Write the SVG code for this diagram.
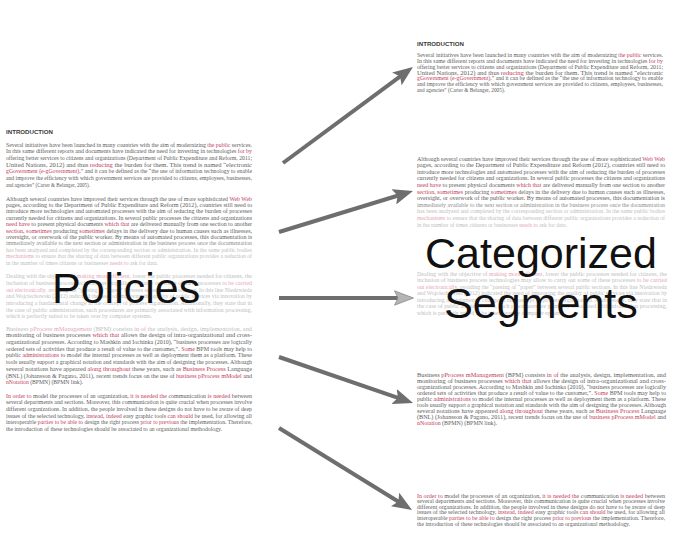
<svg xmlns="http://www.w3.org/2000/svg" width="679" height="545" viewBox="0 0 679 545">
<style>
.t{font-family:"Liberation Serif","Times New Roman",serif;font-size:5.5px;fill:#5c5c5c}
.r{fill:#c23c5a}
.m{fill:#8c8c8c}
.mr{fill:#d27c90}
.f{fill:#bdbdbd}
.fr{fill:#e6a6b5}
.h{font-family:"Liberation Sans",Arial,sans-serif;font-weight:bold;font-size:6px;fill:#3a3a3a}
.big{font-family:"Liberation Sans",Arial,sans-serif;font-size:43px;fill:#111}
.arr{stroke:#6e6e6e;stroke-width:4;fill:none}
</style>
<defs>
<marker id="ah" viewBox="0 0 20 16" markerUnits="userSpaceOnUse" markerWidth="20" markerHeight="16" refX="8" refY="8" orient="auto"><path d="M0,0 L20,8 L0,16 L4,8 z" fill="#6e6e6e"/></marker>
<marker id="ahl" viewBox="0 0 20 16" markerUnits="userSpaceOnUse" markerWidth="20" markerHeight="16" refX="8" refY="8" orient="auto"><path d="M0.5,0.8 L19.5,8 L0.5,15.2 L4,8 z" fill="#b4b4b4" stroke="#8a8a8a" stroke-width="0.8"/></marker>
</defs>
<rect width="679" height="545" fill="#fff"/>

<g id="policies">
<text class="h" x="6" y="133.8" textLength="47" lengthAdjust="spacingAndGlyphs">INTRODUCTION</text>
<text class="t" x="6" y="146.6" textLength="246" lengthAdjust="spacingAndGlyphs">Several initiatives have been launched in many countries with the aim of modernizing <tspan class="r">the public</tspan> services.</text>
<text class="t" x="6" y="153.3" textLength="246" lengthAdjust="spacingAndGlyphs">In this same different reports and documents have indicated the need for investing in technologies <tspan class="r">for by</tspan></text>
<text class="t" x="6" y="160" textLength="246" lengthAdjust="spacingAndGlyphs">offering better services to citizens and organizations (Department of Public Expenditure and Reform, 2011;</text>
<text class="t" x="6" y="166.7" textLength="246" lengthAdjust="spacingAndGlyphs">United Nations, 2012) and thus <tspan class="r">reducing</tspan> the burden for them. This trend is named “electronic</text>
<text class="t" x="6" y="173.4" textLength="246" lengthAdjust="spacingAndGlyphs"><tspan class="r">gGovernment (e-gGovernment)</tspan>,” and it can be defined as the “the use of information technology to enable</text>
<text class="t" x="6" y="180.1" textLength="246" lengthAdjust="spacingAndGlyphs">and improve the efficiency with which government services are provided to citizens, employees, businesses,</text>
<text class="t" x="6" y="186.8" textLength="84" lengthAdjust="spacingAndGlyphs">and agencies” (Carter &amp; Belanger, 2005).</text>

<text class="t" x="6" y="200.6" textLength="246" lengthAdjust="spacingAndGlyphs">Although several countries have improved their services through the use of more sophisticated <tspan class="r">Web Web</tspan></text>
<text class="t" x="6" y="207" textLength="246" lengthAdjust="spacingAndGlyphs">pages, according to the Department of Public Expenditure and Reform (2012), countries still need to</text>
<text class="t" x="6" y="213.4" textLength="246" lengthAdjust="spacingAndGlyphs">introduce more technologies and automated processes with the aim of reducing the burden of processes</text>
<text class="t" x="6" y="219.8" textLength="246" lengthAdjust="spacingAndGlyphs">currently needed for citizens and organizations. In several public processes the citizens and organizations</text>
<text class="t" x="6" y="226.2" textLength="246" lengthAdjust="spacingAndGlyphs"><tspan class="r">need have</tspan> to present physical documents <tspan class="r">which that</tspan> are delivered manually from one section to another</text>
<text class="t" x="6" y="232.6" textLength="246" lengthAdjust="spacingAndGlyphs"><tspan class="r">section, sometimes</tspan> producing <tspan class="r">sometimes</tspan> delays in the delivery due to human causes such as illnesses,</text>
<text class="t" x="6" y="239" textLength="246" lengthAdjust="spacingAndGlyphs">oversight, or overwork of the public worker. By means of automated processes, this documentation is</text>
<text class="t m" x="6" y="245.4" textLength="246" lengthAdjust="spacingAndGlyphs">immediately available to the next section or administration in the business process once the documentation</text>
<text class="t f" x="6" y="251.8" textLength="246" lengthAdjust="spacingAndGlyphs">has been analyzed and completed by the corresponding section or administration. In the same public bodies</text>
<text class="t f" x="6" y="258.2" textLength="246" lengthAdjust="spacingAndGlyphs"><tspan class="fr">mechanisms</tspan> to ensure that the sharing of data between different public organizations provides a reduction of</text>
<text class="t f" x="6" y="264.6" textLength="152" lengthAdjust="spacingAndGlyphs">in the number of times citizens or businesses <tspan class="fr">needs to</tspan> ask for data.</text>

<text class="t f" x="6" y="278.1" textLength="246" lengthAdjust="spacingAndGlyphs">Dealing with the objective of <tspan class="fr">making more efficient</tspan>, lower the public processes needed for citizens, the</text>
<text class="t f" x="6" y="284.8" textLength="246" lengthAdjust="spacingAndGlyphs">inclusion of business process technologies may allow to carry out some of these processes <tspan class="fr">to be carried</tspan></text>
<text class="t f" x="6" y="291.5" textLength="246" lengthAdjust="spacingAndGlyphs"><tspan class="fr">out electronically</tspan>, avoiding the “passing of “paper” between several public sections. In this line Niedzwiedz</text>
<text class="t f" x="6" y="298.2" textLength="246" lengthAdjust="spacingAndGlyphs">and Wojciechowski (2012) indicated the need of improving the quality of public services via innovation by</text>
<text class="t f" x="6" y="304.9" textLength="246" lengthAdjust="spacingAndGlyphs">introducing a fundamental change in the concept of process organization. Additionally, they state that in</text>
<text class="t f" x="6" y="311.6" textLength="246" lengthAdjust="spacingAndGlyphs">the case of public administration, such procedures are primarily associated with information processing,</text>
<text class="t f" x="6" y="318.3" textLength="146" lengthAdjust="spacingAndGlyphs">which is perfectly suited to be taken over by computer systems.</text>

<text class="t f" x="6" y="330.6" textLength="246" lengthAdjust="spacingAndGlyphs">Business <tspan class="fr">pProcess mManagement</tspan> (BPM) consists <tspan class="fr">in of</tspan> the analysis, design, implementation, and</text>
<text class="t" x="6" y="337.3" textLength="246" lengthAdjust="spacingAndGlyphs">monitoring of business processes <tspan class="r">which that</tspan> allows the design of intra-organizational and cross-</text>
<text class="t" x="6" y="344" textLength="246" lengthAdjust="spacingAndGlyphs">organizational processes. According to Mashkin and Iochinka (2010), “business processes are logically</text>
<text class="t" x="6" y="350.7" textLength="246" lengthAdjust="spacingAndGlyphs">ordered sets of activities that produce a result of value to the customer,”. <tspan class="r">Some</tspan> BPM tools may help to</text>
<text class="t" x="6" y="357.4" textLength="246" lengthAdjust="spacingAndGlyphs">public <tspan class="r">administrations</tspan> to model the internal processes as well as deployment them as a platform. These</text>
<text class="t" x="6" y="364.1" textLength="246" lengthAdjust="spacingAndGlyphs">tools usually support a graphical notation and standards with the aim of designing the processes. Although</text>
<text class="t" x="6" y="370.8" textLength="246" lengthAdjust="spacingAndGlyphs">several notations have appeared <tspan class="r">along throughout</tspan> these years, such as <tspan class="r">Business Process</tspan> Language</text>
<text class="t" x="6" y="377.5" textLength="246" lengthAdjust="spacingAndGlyphs">(BNL) (Johansson &amp; Pagano, 2011), recent trends focus on the use of <tspan class="r">business pProcess mModel</tspan> and</text>
<text class="t" x="6" y="384.2" textLength="77" lengthAdjust="spacingAndGlyphs"><tspan class="r">nNotation</tspan> (BPMN) (BPMN link).</text>

<text class="t" x="6" y="397.6" textLength="246" lengthAdjust="spacingAndGlyphs"><tspan class="r">In order to</tspan> model the processes of an organization, <tspan class="r">it is needed the</tspan> communication <tspan class="r">is needed</tspan> between</text>
<text class="t" x="6" y="404.3" textLength="246" lengthAdjust="spacingAndGlyphs">several departments and sections. Moreover, this communication is quite crucial when processes involve</text>
<text class="t" x="6" y="411" textLength="246" lengthAdjust="spacingAndGlyphs">different organizations. In addition, the people involved in these designs do not have to be aware of deep</text>
<text class="t" x="6" y="417.7" textLength="246" lengthAdjust="spacingAndGlyphs">issues of the selected technology, <tspan class="r">instead, indeed</tspan> easy graphic tools <tspan class="r">can should</tspan> be used, for allowing all</text>
<text class="t" x="6" y="424.4" textLength="246" lengthAdjust="spacingAndGlyphs">interoperable <tspan class="r">parties to be able to</tspan> design the right process <tspan class="r">prior to previous</tspan> the implementation. Therefore,</text>
<text class="t" x="6" y="431.1" textLength="216" lengthAdjust="spacingAndGlyphs">the introduction of these technologies should be associated to an organizational methodology.</text>

<text class="big" x="52" y="303">Policies</text>
</g>

<g id="segment-1">
<text class="h" x="417" y="46" textLength="47" lengthAdjust="spacingAndGlyphs">INTRODUCTION</text>
<text class="t" x="417" y="57.1" textLength="246" lengthAdjust="spacingAndGlyphs">Several initiatives have been launched in many countries with the aim of modernizing <tspan class="r">the public</tspan> services.</text>
<text class="t" x="417" y="62.9" textLength="246" lengthAdjust="spacingAndGlyphs">In this same different reports and documents have indicated the need for investing in technologies <tspan class="r">for by</tspan></text>
<text class="t" x="417" y="68.7" textLength="246" lengthAdjust="spacingAndGlyphs">offering better services to citizens and organizations (Department of Public Expenditure and Reform, 2011;</text>
<text class="t" x="417" y="74.5" textLength="246" lengthAdjust="spacingAndGlyphs">United Nations, 2012) and thus <tspan class="r">reducing</tspan> the burden for them. This trend is named “electronic</text>
<text class="t" x="417" y="80.3" textLength="246" lengthAdjust="spacingAndGlyphs"><tspan class="r">gGovernment (e-gGovernment)</tspan>,” and it can be defined as the “the use of information technology to enable</text>
<text class="t" x="417" y="86.1" textLength="246" lengthAdjust="spacingAndGlyphs">and improve the efficiency with which government services are provided to citizens, employees, businesses,</text>
<text class="t" x="417" y="91.9" textLength="88" lengthAdjust="spacingAndGlyphs">and agencies” (Carter &amp; Belanger, 2005).</text>
</g>

<g id="segment-2">
<text class="t" x="417" y="160.6" textLength="248" lengthAdjust="spacingAndGlyphs">Although several countries have improved their services through the use of more sophisticated <tspan class="r">Web Web</tspan></text>
<text class="t" x="417" y="167.2" textLength="248" lengthAdjust="spacingAndGlyphs">pages, according to the Department of Public Expenditure and Reform (2012), countries still need to</text>
<text class="t" x="417" y="173.8" textLength="248" lengthAdjust="spacingAndGlyphs">introduce more technologies and automated processes with the aim of reducing the burden of processes</text>
<text class="t" x="417" y="180.4" textLength="248" lengthAdjust="spacingAndGlyphs">currently needed for citizens and organizations. In several public processes the citizens and organizations</text>
<text class="t" x="417" y="187" textLength="248" lengthAdjust="spacingAndGlyphs"><tspan class="r">need have</tspan> to present physical documents <tspan class="r">which that</tspan> are delivered manually from one section to another</text>
<text class="t" x="417" y="193.6" textLength="248" lengthAdjust="spacingAndGlyphs"><tspan class="r">section, sometimes</tspan> producing <tspan class="r">sometimes</tspan> delays in the delivery due to human causes such as illnesses,</text>
<text class="t" x="417" y="200.2" textLength="248" lengthAdjust="spacingAndGlyphs">oversight, or overwork of the public worker. By means of automated processes, this documentation is</text>
<text class="t m" x="417" y="206.8" textLength="248" lengthAdjust="spacingAndGlyphs">immediately available to the next section or administration in the business process once the documentation</text>
<text class="t f" x="417" y="213.4" textLength="248" lengthAdjust="spacingAndGlyphs">has been analyzed and completed by the corresponding section or administration. In the same public bodies</text>
<text class="t f" x="417" y="220" textLength="248" lengthAdjust="spacingAndGlyphs"><tspan class="fr">mechanisms</tspan> to ensure that the sharing of data between different public organizations provides a reduction of</text>
<text class="t f" x="417" y="226.6" textLength="150" lengthAdjust="spacingAndGlyphs">in the number of times citizens or businesses <tspan class="fr">needs to</tspan> ask for data.</text>
</g>

<g id="segment-3">
<text class="t f" x="417" y="275.6" textLength="250" lengthAdjust="spacingAndGlyphs">Dealing with the objective of <tspan class="fr">making more efficient</tspan>, lower the public processes needed for citizens, the</text>
<text class="t f" x="417" y="282.1" textLength="250" lengthAdjust="spacingAndGlyphs">inclusion of business process technologies may allow to carry out some of these processes <tspan class="fr">to be carried</tspan></text>
<text class="t f" x="417" y="288.6" textLength="250" lengthAdjust="spacingAndGlyphs"><tspan class="fr">out electronically</tspan>, avoiding the “passing of “paper” between several public sections. In this line Niedzwiedz</text>
<text class="t f" x="417" y="295.1" textLength="250" lengthAdjust="spacingAndGlyphs">and Wojciechowski (2012) indicated the need of improving the quality of public services via innovation by</text>
<text class="t f" x="417" y="301.6" textLength="250" lengthAdjust="spacingAndGlyphs">introducing a fundamental change in the concept of process organization. Additionally, they state that in</text>
<text class="t f" x="417" y="308.1" textLength="250" lengthAdjust="spacingAndGlyphs">the case of public administration, such procedures are primarily associated with information processing,</text>
<text class="t f" x="417" y="314.6" textLength="148" lengthAdjust="spacingAndGlyphs">which is perfectly suited to be taken over by computer systems.</text>
</g>

<g id="segment-4">
<text class="t" x="417" y="376.6" textLength="249" lengthAdjust="spacingAndGlyphs">Business <tspan class="r">pProcess mManagement</tspan> (BPM) consists <tspan class="r">in of</tspan> the analysis, design, implementation, and</text>
<text class="t" x="417" y="382.7" textLength="249" lengthAdjust="spacingAndGlyphs">monitoring of business processes <tspan class="r">which that</tspan> allows the design of intra-organizational and cross-</text>
<text class="t" x="417" y="388.8" textLength="249" lengthAdjust="spacingAndGlyphs">organizational processes. According to Mashkin and Iochinka (2010), “business processes are logically</text>
<text class="t" x="417" y="394.9" textLength="249" lengthAdjust="spacingAndGlyphs">ordered sets of activities that produce a result of value to the customer,”. <tspan class="r">Some</tspan> BPM tools may help to</text>
<text class="t" x="417" y="401" textLength="249" lengthAdjust="spacingAndGlyphs">public <tspan class="r">administrations</tspan> to model the internal processes as well as deployment them as a platform. These</text>
<text class="t" x="417" y="407.1" textLength="249" lengthAdjust="spacingAndGlyphs">tools usually support a graphical notation and standards with the aim of designing the processes. Although</text>
<text class="t" x="417" y="413.2" textLength="249" lengthAdjust="spacingAndGlyphs">several notations have appeared <tspan class="r">along throughout</tspan> these years, such as <tspan class="r">Business Process</tspan> Language</text>
<text class="t" x="417" y="419.3" textLength="249" lengthAdjust="spacingAndGlyphs">(BNL) (Johansson &amp; Pagano, 2011), recent trends focus on the use of <tspan class="r">business pProcess mModel</tspan> and</text>
<text class="t" x="417" y="425.4" textLength="80" lengthAdjust="spacingAndGlyphs"><tspan class="r">nNotation</tspan> (BPMN) (BPMN link).</text>
</g>

<g id="segment-5">
<text class="t" x="417" y="497.6" textLength="248" lengthAdjust="spacingAndGlyphs"><tspan class="r">In order to</tspan> model the processes of an organization, <tspan class="r">it is needed the</tspan> communication <tspan class="r">is needed</tspan> between</text>
<text class="t" x="417" y="503.2" textLength="248" lengthAdjust="spacingAndGlyphs">several departments and sections. Moreover, this communication is quite crucial when processes involve</text>
<text class="t" x="417" y="508.8" textLength="248" lengthAdjust="spacingAndGlyphs">different organizations. In addition, the people involved in these designs do not have to be aware of deep</text>
<text class="t" x="417" y="514.4" textLength="248" lengthAdjust="spacingAndGlyphs">issues of the selected technology, <tspan class="r">instead, indeed</tspan> easy graphic tools <tspan class="r">can should</tspan> be used, for allowing all</text>
<text class="t" x="417" y="520" textLength="248" lengthAdjust="spacingAndGlyphs">interoperable <tspan class="r">parties to be able to</tspan> design the right process <tspan class="r">prior to previous</tspan> the implementation. Therefore,</text>
<text class="t" x="417" y="525.6" textLength="213" lengthAdjust="spacingAndGlyphs">the introduction of these technologies should be associated to an organizational methodology.</text>
</g>

<g id="categorized-label">
<text class="big" x="541" y="268" text-anchor="middle">Categorized</text>
<text class="big" x="541" y="318" text-anchor="middle">Segments</text>
</g>

<g id="connectors">
<line class="arr" x1="283" y1="163" x2="403.3" y2="74.1" marker-end="url(#ah)"/>
<line class="arr" x1="279" y1="232" x2="401.5" y2="194.5" marker-end="url(#ah)"/>
<line class="arr" x1="279" y1="298" x2="402" y2="298" marker-end="url(#ahl)"/>
<line class="arr" x1="279" y1="357" x2="401.7" y2="399.1" marker-end="url(#ah)"/>
<line class="arr" x1="279" y1="428" x2="401.8" y2="503.7" marker-end="url(#ah)"/>
</g>
</svg>
